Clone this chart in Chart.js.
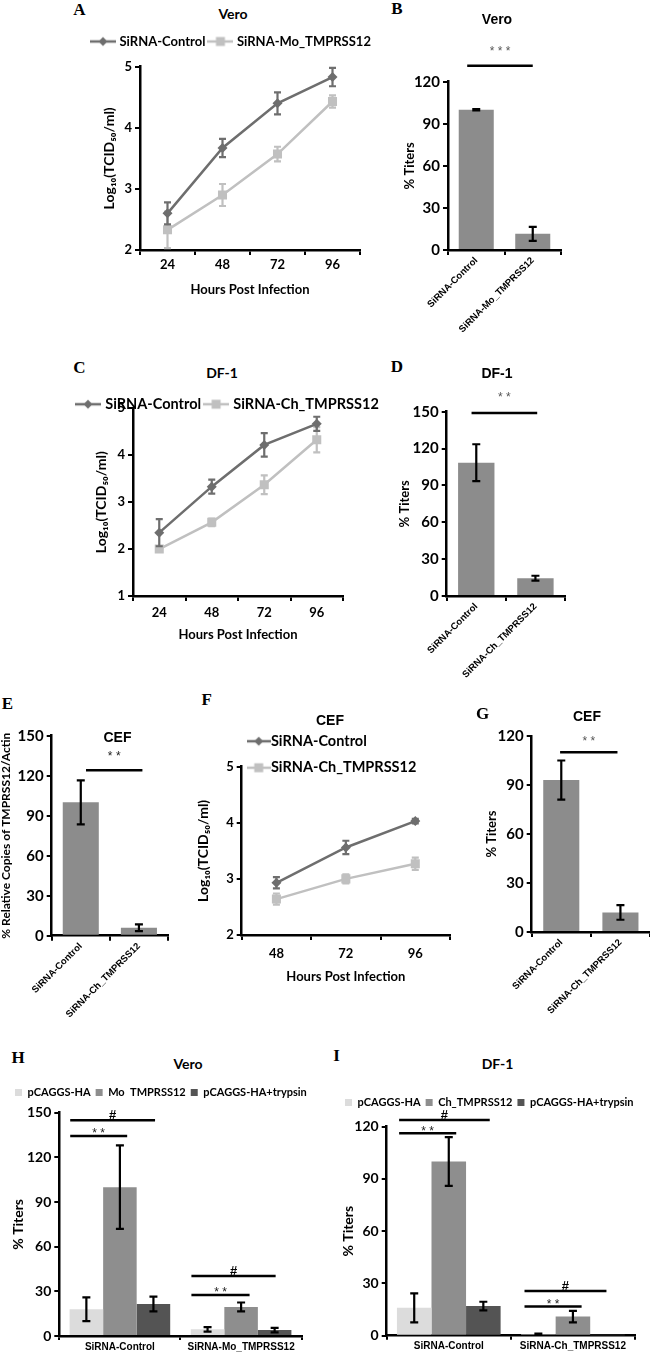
<!DOCTYPE html>
<html>
<head>
<meta charset="utf-8">
<script src="https://cdn.jsdelivr.net/npm/chart.js@4.4.1/dist/chart.umd.min.js"></script>
<style>
body { margin: 0; background: #fff; }
#fig { position: relative; width: 650px; height: 1355px; overflow: hidden; }
#fig canvas { position: absolute; }
.lbl { position: absolute; transform: translate(-50%, -50%); white-space: nowrap; line-height: 1; font-weight: bold; color: #000; }
.let { font-family: "Liberation Serif", serif; font-size: 17px; }
.cal { font-family: Lato, "Noto Sans", sans-serif; font-size: 14px; }
.ari { font-family: "Liberation Sans", Arial, sans-serif; font-size: 14px; }
</style>
</head>
<body>
<div id="fig"></div>
<script>
// ---------- data ----------
// A / C : growth curves, log10(TCID50/ml)
const hours4 = ['24', '48', '72', '96'];
const veroCtrl = [2.60, 3.67, 4.40, 4.83];
const veroCtrlErr = [0.18, 0.15, 0.18, 0.15];
const veroMo = [2.33, 2.90, 3.57, 4.43];
const veroMoErr = [0.30, 0.18, 0.12, 0.10];

const dfCtrl = [2.35, 3.33, 4.22, 4.67];
const dfCtrlErr = [0.29, 0.15, 0.25, 0.15];
const dfCh = [2.00, 2.57, 3.37, 4.33];
const dfChErr = [0.03, 0.08, 0.20, 0.27];

// F : CEF growth curve
const hours3 = ['48', '72', '96'];
const cefCtrl = [2.93, 3.56, 4.03];
const cefCtrlErr = [0.10, 0.12, 0.04];
const cefCh = [2.64, 3.00, 3.27];
const cefChErr = [0.10, 0.08, 0.11];

// B / D / E / G : two-bar panels
const veroBarLabels = ['SiRNA-Control', 'SiRNA-Mo_TMPRSS12'];
const veroBar = [100, 11.5];
const veroBarErr = [0.5, 5];

const chBarLabels = ['SiRNA-Control', 'SiRNA-Ch_TMPRSS12'];
const dfBar = [108.5, 14.5];
const dfBarErr = [15, 2];
const cefCopies = [100, 6];
const cefCopiesErr = [16.5, 2.5];
const cefBar = [93, 12];
const cefBarErr = [12, 4.5];

// H / I : grouped bars
const veroSeries = ['pCAGGS-HA', 'Mo  TMPRSS12', 'pCAGGS-HA+trypsin'];
const veroHA = [18, 4.5];
const veroHAErr = [8, 1.5];
const veroMoT = [100, 19.5];
const veroMoTErr = [28, 3];
const veroTryp = [21.5, 4];
const veroTrypErr = [5, 1.5];

const dfSeries = ['pCAGGS-HA', 'Ch_TMPRSS12', 'pCAGGS-HA+trypsin'];
const dfHA = [16, 0.8];
const dfHAErr = [8.3, 0.4];
const dfChT = [100, 11];
const dfChTErr = [14, 3.3];
const dfTryp = [17, 0.3];
const dfTrypErr = [2.5, 0];

// significance bars: from/to in category units, y in data units
const sigB = [{ from: -0.16, to: 1.0, y: 131.4, text: '* * *' }];
const sigD = [{ from: -0.08, to: 1.03, y: 149, text: '* *' }];
const sigE = [{ from: 0.09, to: 1.06, y: 124, text: '* *' }];
const sigG = [{ from: -0.02, to: 0.95, y: 110, text: '* *' }];
const sigH = [
  { from: -0.41, to: 0.29, y: 145, text: '#' },
  { from: -0.41, to: 0.06, y: 134.4, text: '* *' },
  { from: 0.59, to: 1.285, y: 40.3, text: '#' },
  { from: 0.59, to: 1.07, y: 27.5, text: '* *' }
];
const sigI = [
  { from: -0.40, to: 0.33, y: 123.8, text: '#' },
  { from: -0.40, to: 0.06, y: 116.2, text: '* *' },
  { from: 0.61, to: 1.27, y: 25.7, text: '#' },
  { from: 0.61, to: 1.07, y: 16.7, text: '* *' }
];

// ---------- styles ----------
const DARK = '#6e6e6e', LIGHT = '#c0c0c0', BAR = '#8c8c8c';
const G_LIGHT = '#dcdcdc', G_MID = '#8e8e8e', G_DARK = '#545454';

const calib = (size, lh) => ({ family: 'Lato, "Noto Sans", sans-serif', weight: 'bold', size: size, lineHeight: lh || 1.2 });
const arial = (size) => ({ family: '"Liberation Sans", Arial, sans-serif', weight: 'bold', size: size });

const fig = document.getElementById('fig');

function put(str, x, y, cls) {
  const d = document.createElement('div');
  d.className = 'lbl ' + cls;
  d.textContent = str;
  d.style.left = x + 'px';
  d.style.top = y + 'px';
  fig.appendChild(d);
}

// error bars, drawn right after their own dataset
Chart.register({
  id: 'errorBars',
  afterDatasetDraw(chart, args) {
    const ds = chart.data.datasets[args.index];
    if (!ds.errors) return;
    const ctx = chart.ctx, ys = chart.scales.y;
    args.meta.data.forEach((el, j) => {
      const e = ds.errors[j];
      if (!e) return;
      const top = ys.getPixelForValue(ds.data[j] + e);
      const bot = ys.getPixelForValue(ds.data[j] - e);
      const cap = ds.errorCap || 4;
      ctx.save();
      ctx.strokeStyle = ds.errorColor || '#000';
      ctx.lineWidth = 2.2;
      ctx.beginPath();
      ctx.moveTo(el.x, top); ctx.lineTo(el.x, bot);
      ctx.moveTo(el.x - cap, top); ctx.lineTo(el.x + cap, top);
      ctx.moveTo(el.x - cap, bot); ctx.lineTo(el.x + cap, bot);
      ctx.stroke();
      ctx.restore();
    });
  }
});

function sigPlugin(marks, gap, starColor) {
  return {
    id: 'sig',
    afterDraw(chart) {
      const ctx = chart.ctx, xs = chart.scales.x, ys = chart.scales.y;
      const x0 = xs.getPixelForValue(0);
      const step = xs.getPixelForValue(1) - x0;
      marks.forEach(m => {
        const a = x0 + m.from * step, b = x0 + m.to * step, py = ys.getPixelForValue(m.y);
        ctx.save();
        ctx.strokeStyle = '#000';
        ctx.lineWidth = 2.5;
        ctx.beginPath(); ctx.moveTo(a, py); ctx.lineTo(b, py); ctx.stroke();
        const hash = m.text === '#';
        const size = hash ? 13 : 12;
        ctx.font = (hash ? 'bold ' : '') + size + 'px "Liberation Sans", Arial, sans-serif';
        ctx.fillStyle = hash ? '#000' : starColor;
        ctx.textAlign = 'center';
        ctx.textBaseline = 'alphabetic';
        ctx.fillText(m.text, (a + b) / 2, py - gap + (hash ? 0.36 : 0.58) * size);
        ctx.restore();
      });
    }
  };
}

// fixed legend height, legend rows may run into the plot (no clipping)
function legendHeight(h) {
  return {
    id: 'legendHeight',
    beforeInit(chart) {
      const lg = chart.legend;
      const fit = lg.fit;
      lg.fit = function () { fit.call(this); this.height = h; };
      lg.draw = function () { if (this.options.display) this._draw(); };
    }
  };
}

function lineIcon(color, shape, w) {
  const c = document.createElement('canvas');
  c.width = w; c.height = 12;
  const g = c.getContext('2d');
  g.strokeStyle = color; g.lineWidth = 2.5;
  g.beginPath(); g.moveTo(0, 6); g.lineTo(w, 6); g.stroke();
  g.fillStyle = color;
  g.beginPath();
  const m = w / 2;
  if (shape === 'diamond') {
    g.moveTo(m, 1.5); g.lineTo(m + 4.5, 6); g.lineTo(m, 10.5); g.lineTo(m - 4.5, 6); g.closePath();
  } else {
    g.rect(m - 4.5, 1.5, 9, 9);
  }
  g.fill();
  return c;
}

function lineSet(label, data, errors, color, shape, iconW) {
  return {
    label: label, data: data, errors: errors, errorColor: color, errorCap: 3.5,
    borderColor: color, backgroundColor: color, borderWidth: 2.5, tension: 0,
    pointStyle: shape === 'diamond' ? 'rectRot' : 'rect',
    pointRadius: shape === 'diamond' ? 5 : 6.4, pointBorderWidth: 0,
    icon: lineIcon(color, shape, iconW || 26)
  };
}

function barSet(label, data, errors, color, extra) {
  return Object.assign({ label: label, data: data, errors: errors, backgroundColor: color, borderWidth: 0 }, extra || {});
}

function lineLegend(size, padding, pw, fullSize) {
  return {
    display: true, position: 'top', align: 'start', fullSize: fullSize,
    labels: {
      usePointStyle: true, pointStyleWidth: pw, padding: padding, color: '#000', font: calib(size),
      generateLabels: chart => chart.data.datasets.map((ds, i) => ({
        text: ds.label, pointStyle: ds.icon, fillStyle: ds.borderColor,
        strokeStyle: ds.borderColor, lineWidth: 0, hidden: false, datasetIndex: i
      }))
    }
  };
}

function barLegend(size) {
  return {
    display: true, position: 'top', align: 'start',
    labels: { boxWidth: 7, boxHeight: 7, padding: 5, color: '#000', font: calib(size) }
  };
}

const tickGrid = (len) => ({ offset: true, drawOnChartArea: false, color: '#000', lineWidth: 2, tickLength: len || 5 });
const axisBorder = { color: '#000', width: 2.5 };

function yAxis(min, max, step, title, titleSize, titlePad, width, tickSize, lh) {
  return {
    min: min, max: max,
    ticks: { stepSize: step, font: calib(tickSize), color: '#000', padding: 3 },
    grid: { drawOnChartArea: false, color: '#000', lineWidth: 2, tickLength: 5 },
    border: axisBorder,
    title: { display: true, text: title, font: calib(titleSize, lh), color: '#000', padding: { top: titlePad, bottom: 0 } },
    afterFit(s) { s.width = width; }
  };
}

function xLine(height, tickPad, titlePad) {
  return {
    offset: true,
    grid: tickGrid(5),
    border: axisBorder,
    ticks: { font: calib(13), color: '#000', padding: tickPad },
    title: { display: true, text: 'Hours Post Infection', font: calib(13), color: '#000', padding: { top: 0, bottom: titlePad } },
    afterFit(s) { s.height = height; }
  };
}

function xRot(height) {
  return {
    grid: tickGrid(5),
    border: axisBorder,
    ticks: { font: arial(9.5), color: '#000', minRotation: 45, maxRotation: 45, autoSkip: false, padding: 0 },
    afterFit(s) { s.height = height; }
  };
}

function xGroup(height) {
  return {
    grid: tickGrid(4),
    border: axisBorder,
    ticks: { font: arial(10), color: '#000', minRotation: 0, maxRotation: 0, autoSkip: false, padding: 1 },
    afterFit(s) { s.height = height; }
  };
}

// empty right-hand box, keeps the plot's right edge in place while the legend keeps full width
function rightGap(w) {
  return {
    type: 'linear', position: 'right', display: true,
    grid: { display: false }, border: { display: false }, ticks: { display: false },
    afterFit(s) { s.width = w; }
  };
}

function panel(left, top, w, h, config) {
  const c = document.createElement('canvas');
  c.width = w; c.height = h;
  c.style.left = left + 'px'; c.style.top = top + 'px';
  c.style.width = w + 'px'; c.style.height = h + 'px';
  fig.appendChild(c);
  config.options = Object.assign({ responsive: false, animation: false, events: [] }, config.options);
  config.options.plugins = Object.assign({ tooltip: { enabled: false }, legend: { display: false } }, config.options.plugins);
  return new Chart(c, config);
}

const LOG_TITLE = 'Log₁₀(TCID₅₀/ml)';

// ---------- A : Vero growth ----------
panel(88, 30, 297, 270, {
  type: 'line',
  data: {
    labels: hours4,
    datasets: [
      lineSet('SiRNA-Control', veroCtrl, veroCtrlErr, DARK, 'diamond'),
      lineSet('SiRNA-Mo_TMPRSS12', veroMo, veroMoErr, LIGHT, 'square')
    ]
  },
  options: {
    plugins: { legend: lineLegend(13, 5, 20, true) },
    scales: {
      x: xLine(50, 2.5, 2.2),
      y: yAxis(2, 5, 1, LOG_TITLE, 14, 12.6, 52, 13),
      gap: rightGap(25)
    }
  },
  plugins: [legendHeight(36.7)]
});

// ---------- B : Vero % titers ----------
panel(395, 25, 176, 315, {
  type: 'bar',
  data: {
    labels: veroBarLabels,
    datasets: [barSet('Vero', veroBar, veroBarErr, BAR, { barPercentage: 0.62, categoryPercentage: 1 })]
  },
  options: {
    layout: { padding: { top: 56.7, right: 10 } },
    scales: { x: xRot(90), y: yAxis(0, 120, 30, '% Titers', 13, 7.2, 53, 15) }
  },
  plugins: [sigPlugin(sigB, 17.7, '#555')]
});

// ---------- C : DF-1 growth ----------
panel(73, 392, 312, 254, {
  type: 'line',
  data: {
    labels: hours4,
    datasets: [
      lineSet('SiRNA-Control', dfCtrl, dfCtrlErr, DARK, 'diamond'),
      lineSet('SiRNA-Ch_TMPRSS12', dfCh, dfChErr, LIGHT, 'square')
    ]
  },
  options: {
    plugins: { legend: lineLegend(14.5, 5, 20, true) },
    scales: {
      x: xLine(50, 4.5, 3.2),
      y: yAxis(1, 5, 1, LOG_TITLE, 14, 19.6, 60, 13),
      gap: rightGap(42)
    }
  },
  plugins: [legendHeight(16.3)]
});

// ---------- D : DF-1 % titers ----------
panel(395, 380, 178, 302, {
  type: 'bar',
  data: {
    labels: chBarLabels,
    datasets: [barSet('DF-1', dfBar, dfBarErr, BAR, { barPercentage: 0.615, categoryPercentage: 1 })]
  },
  options: {
    layout: { padding: { top: 31.7, right: 8 } },
    scales: { x: xRot(86), y: yAxis(0, 150, 30, '% Titers', 13, 2.2, 51.7, 15) }
  },
  plugins: [sigPlugin(sigD, 18.7, '#555')]
});

// ---------- E : CEF relative copies ----------
panel(0, 715, 176, 311, {
  type: 'bar',
  data: {
    labels: chBarLabels,
    datasets: [barSet('CEF', cefCopies, cefCopiesErr, BAR, { barPercentage: 0.62, categoryPercentage: 1 })]
  },
  options: {
    layout: { padding: { top: 20.7, right: 8 } },
    scales: { x: xRot(90.3), y: yAxis(0, 150, 30, '% Relative Copies of TMPRSS12/Actin', 12, 0, 51.7, 15, 1) }
  },
  plugins: [sigPlugin(sigE, 17.7, '#222')]
});

// ---------- F : CEF growth ----------
panel(195, 722, 265, 265, {
  type: 'line',
  data: {
    labels: hours3,
    datasets: [
      lineSet('SiRNA-Control', cefCtrl, cefCtrlErr, DARK, 'diamond', 24),
      lineSet('SiRNA-Ch_TMPRSS12', cefCh, cefChErr, LIGHT, 'square', 24)
    ]
  },
  options: {
    layout: { padding: { right: 10 } },
    plugins: { legend: lineLegend(14.5, 12, 10, false) },
    scales: {
      x: xLine(52, 6.5, 2.5),
      y: yAxis(2, 5, 1, LOG_TITLE, 14, 0, 46.7, 13)
    }
  },
  plugins: [legendHeight(44.7)]
});

// ---------- G : CEF % titers ----------
panel(478, 700, 172, 322, {
  type: 'bar',
  data: {
    labels: chBarLabels,
    datasets: [barSet('CEF', cefBar, cefBarErr, BAR, { barPercentage: 0.61, categoryPercentage: 1 })]
  },
  options: {
    layout: { padding: { top: 36, right: 0 } },
    scales: { x: xRot(90), y: yAxis(0, 120, 30, '% Titers', 13, 5.9, 53.7, 15) }
  },
  plugins: [sigPlugin(sigG, 14.3, '#555')]
});

// ---------- H : Vero grouped ----------
panel(0, 1082, 330, 273, {
  type: 'bar',
  data: {
    labels: veroBarLabels,
    datasets: [
      barSet(veroSeries[0], veroHA, veroHAErr, G_LIGHT, { barPercentage: 1, categoryPercentage: 0.83 }),
      barSet(veroSeries[1], veroMoT, veroMoTErr, G_MID, { barPercentage: 1, categoryPercentage: 0.83 }),
      barSet(veroSeries[2], veroTryp, veroTrypErr, G_DARK, { barPercentage: 1, categoryPercentage: 0.83 })
    ]
  },
  options: {
    layout: { padding: { left: 10 } },
    plugins: { legend: barLegend(11) },
    scales: {
      x: xGroup(19),
      y: yAxis(0, 150, 30, '% Titers', 14, 0, 49.3, 14),
      gap: rightGap(28.3)
    }
  },
  plugins: [legendHeight(30.7), sigPlugin(sigH, 5.8, '#222')]
});

// ---------- I : DF-1 grouped ----------
panel(328, 1092, 322, 263, {
  type: 'bar',
  data: {
    labels: chBarLabels,
    datasets: [
      barSet(dfSeries[0], dfHA, dfHAErr, G_LIGHT, { barPercentage: 1, categoryPercentage: 0.835 }),
      barSet(dfSeries[1], dfChT, dfChTErr, G_MID, { barPercentage: 1, categoryPercentage: 0.835 }),
      barSet(dfSeries[2], dfTryp, dfTrypErr, G_DARK, { barPercentage: 1, categoryPercentage: 0.835 })
    ]
  },
  options: {
    layout: { padding: { left: 12 } },
    plugins: { legend: barLegend(11) },
    scales: {
      x: xGroup(19.3),
      y: yAxis(0, 120, 30, '% Titers', 14, 0, 46.7, 14),
      gap: rightGap(15)
    }
  },
  plugins: [legendHeight(34.7), sigPlugin(sigI, 5.5, '#222')]
});

// ---------- panel letters and titles ----------
put('A', 79.5, 8.5, 'let');
put('B', 397, 7.5, 'let');
put('C', 79.5, 367, 'let');
put('D', 397, 366, 'let');
put('E', 7.5, 702.5, 'let');
put('F', 206.7, 699, 'let');
put('G', 482.5, 712.5, 'let');
put('H', 18, 1056.5, 'let');
put('I', 336.5, 1055, 'let');

put('Vero', 233, 14, 'cal');
put('Vero', 497, 19, 'ari');
put('DF-1', 222, 373, 'cal');
put('DF-1', 497, 373, 'ari');
put('CEF', 117.5, 737, 'ari');
put('CEF', 330, 720, 'ari');
put('CEF', 587, 716, 'ari');
put('Vero', 188, 1064, 'cal');
put('DF-1', 497.5, 1064, 'cal');
</script>
</body>
</html>
